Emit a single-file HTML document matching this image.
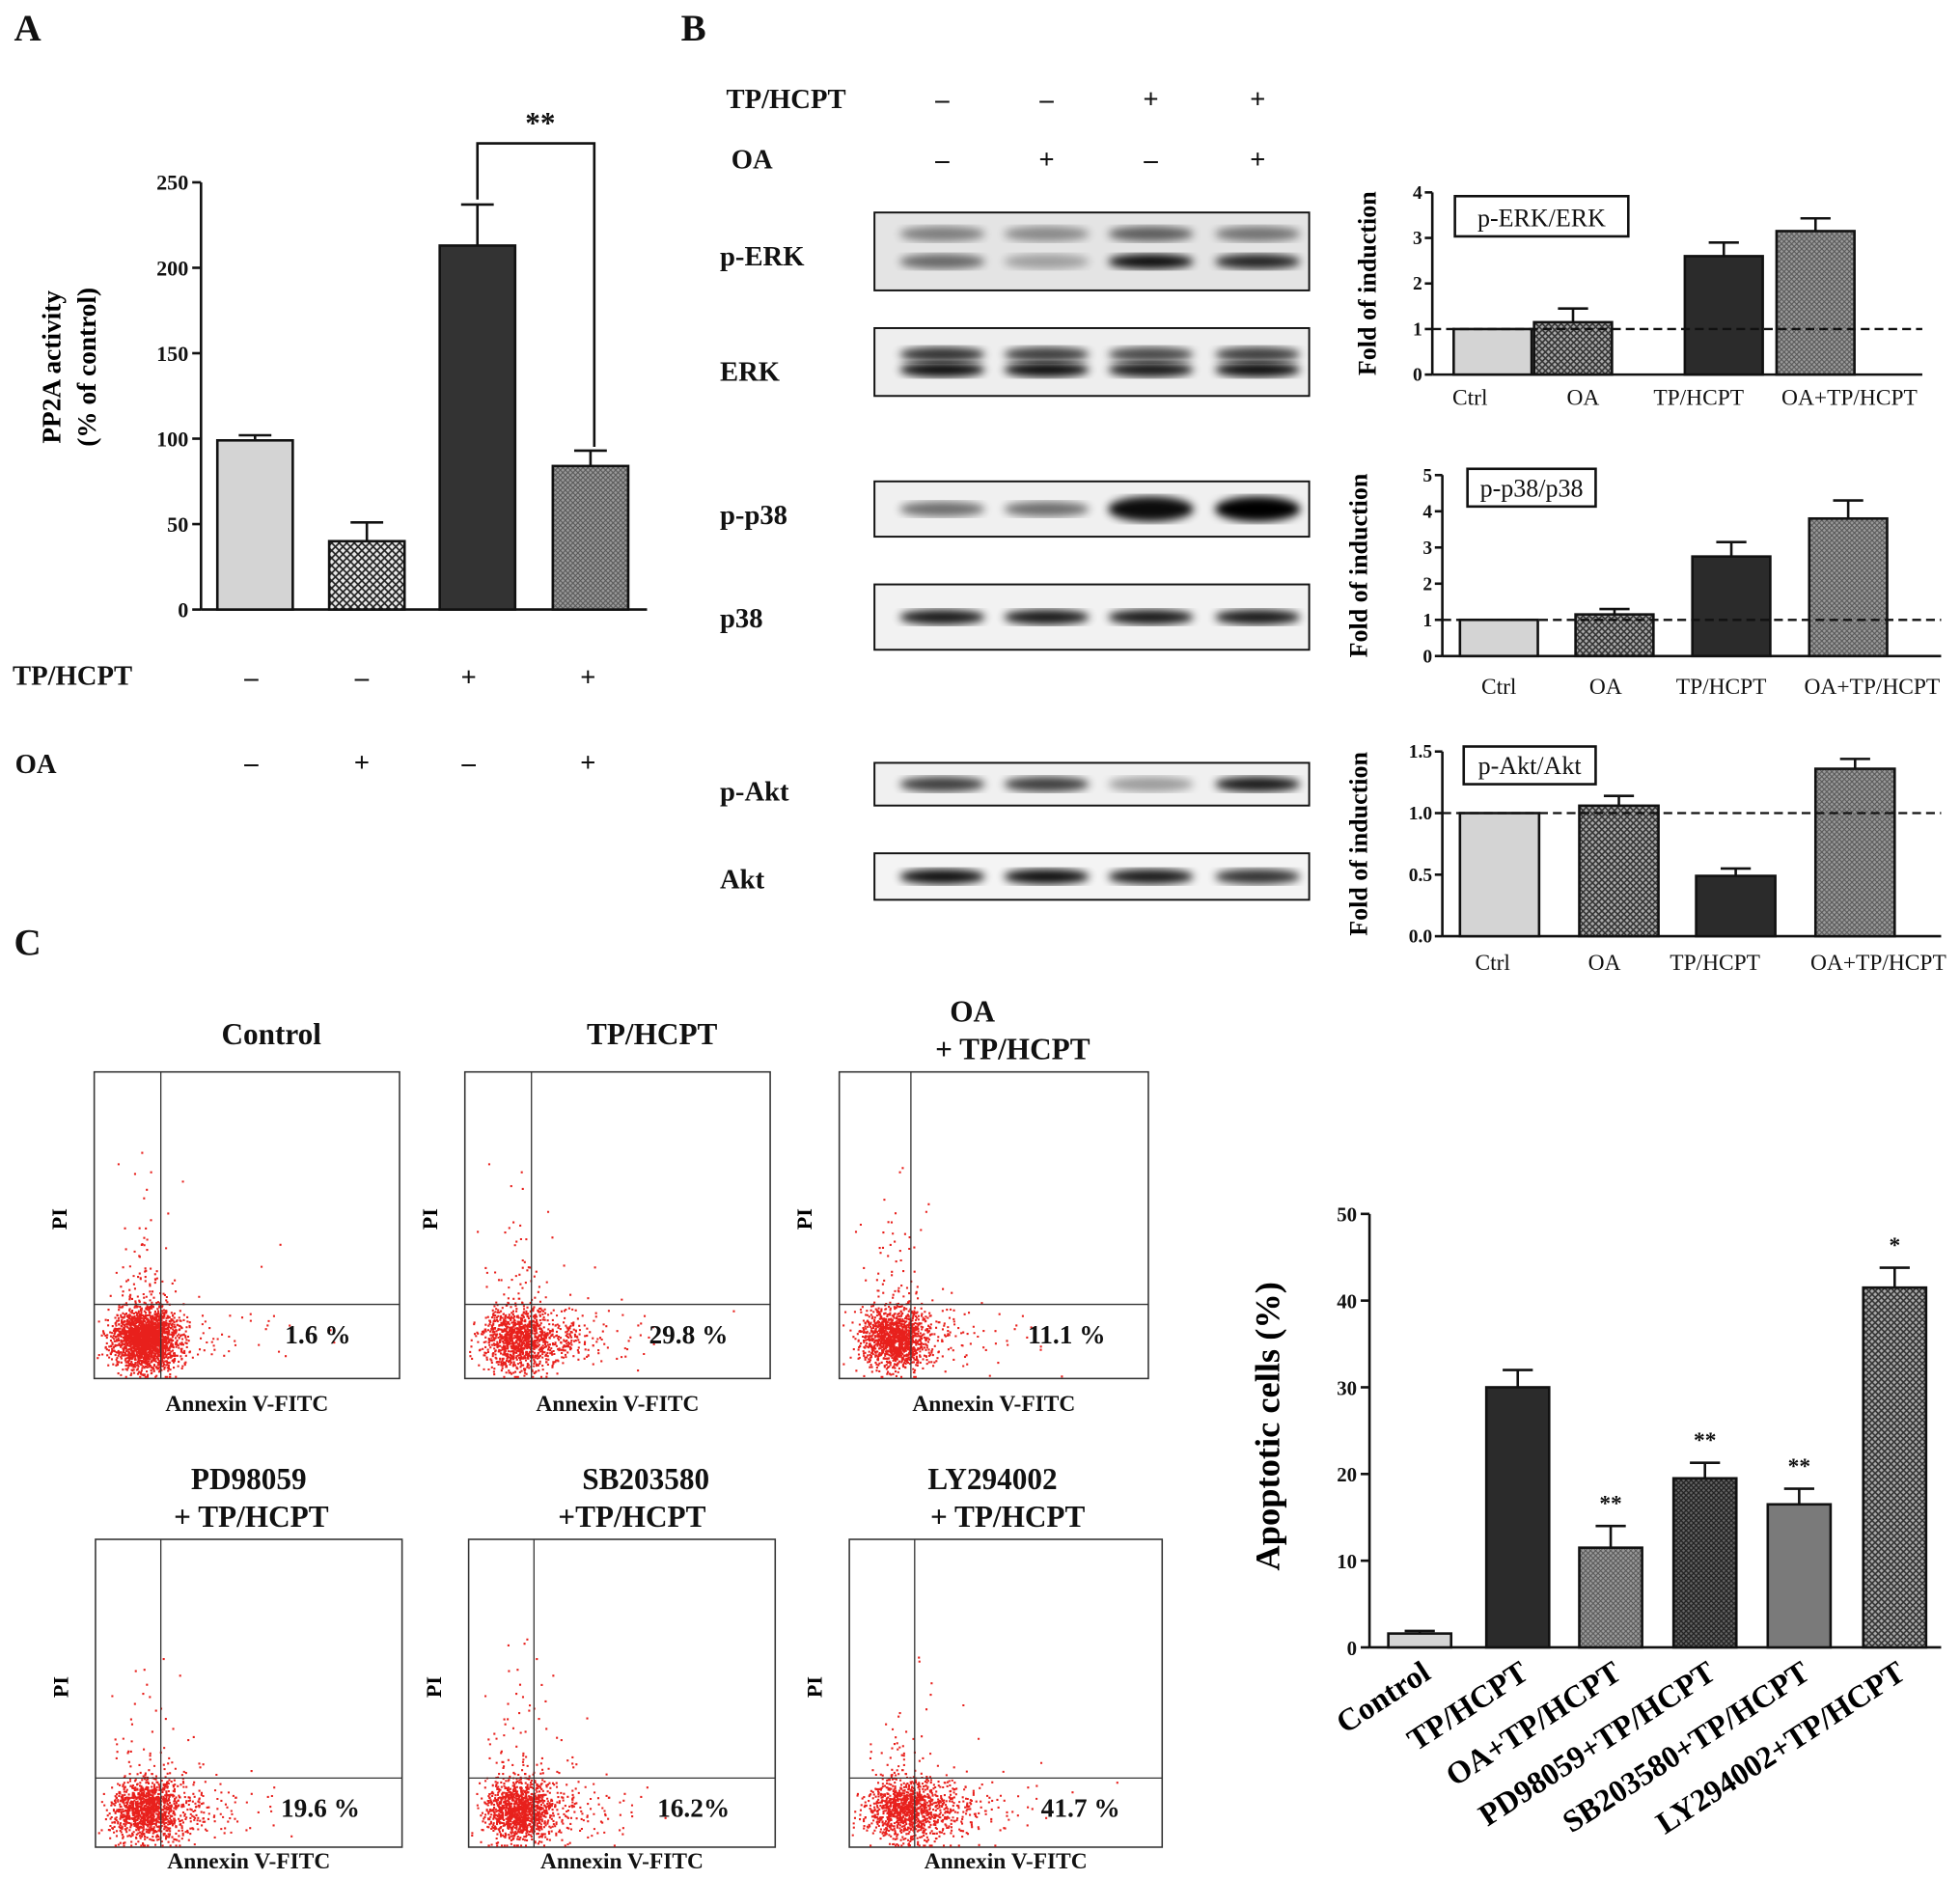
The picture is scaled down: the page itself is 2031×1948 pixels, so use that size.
<!DOCTYPE html>
<html><head><meta charset="utf-8">
<style>
html,body{margin:0;padding:0;background:#fff;}
svg{display:block;font-family:"Liberation Serif",serif;}
</style></head>
<body>
<svg id="fig" width="2031" height="1948" viewBox="0 0 1560 1496" xmlns="http://www.w3.org/2000/svg">
<defs>
<pattern id="hatchA" width="6" height="6" patternUnits="userSpaceOnUse">
<rect width="6" height="6" fill="#e8e8e8"/><path d="M0,0L6,6M6,0L0,6" stroke="#222" stroke-width="1.3"/></pattern>
<pattern id="hatchB" width="4" height="4" patternUnits="userSpaceOnUse">
<rect width="4" height="4" fill="#9a9a9a"/><path d="M0,0L4,4M4,0L0,4" stroke="#555" stroke-width="0.8"/></pattern>
<pattern id="hatchC" width="5" height="5" patternUnits="userSpaceOnUse">
<rect width="5" height="5" fill="#aaa"/><path d="M0,0L5,5M5,0L0,5" stroke="#333" stroke-width="1.2"/></pattern>
<pattern id="hatchD" width="4" height="4" patternUnits="userSpaceOnUse">
<rect width="4" height="4" fill="#666"/><path d="M0,0L4,4M4,0L0,4" stroke="#222" stroke-width="1"/></pattern>
<filter id="blur"><feGaussianBlur stdDeviation="3.5"/></filter>
</defs>
<g id="root"></g>
</svg>
<script>
// ---- data ----
const aCategories=["Ctrl","OA","TP/HCPT","OA+TP/HCPT"];
const aValues=[99,40,213,84];
const aErrors=[3,11,24,9];
const aTicks=[0,50,100,150,200,250];
const tpSigns=["–","–","+","+"];
const oaSigns=["–","+","–","+"];

const erkValues=[1,1.15,2.6,3.15];
const erkErrors=[0,0.3,0.3,0.28];
const erkTicks=[0,1,2,3,4];
const p38Values=[1,1.15,2.75,3.8];
const p38Errors=[0,0.15,0.4,0.5];
const p38Ticks=[0,1,2,3,4,5];
const aktValues=[1.0,1.06,0.49,1.36];
const aktErrors=[0,0.08,0.06,0.08];
const aktTicks=[0,0.5,1.0,1.5];
const aktTickLabels=["0.0","0.5","1.0","1.5"];

const cCategories=["Control","TP/HCPT","OA+TP/HCPT","PD98059+TP/HCPT","SB203580+TP/HCPT","LY294002+TP/HCPT"];
const cValues=[1.6,30,11.5,19.5,16.5,41.5];
const cErrors=[0.3,2,2.5,1.8,1.8,2.3];
const cStars=["","","**","**","**","*"];
const cTicks=[0,10,20,30,40,50];
const flowPercents=["1.6 %","29.8 %","11.1 %","19.6 %","16.2%","41.7 %"];

const NS="http://www.w3.org/2000/svg";
const root=document.getElementById('root');
function mk(tag,attrs,name,parent){
  const el=document.createElementNS(NS,tag);
  for(const k in attrs) el.setAttribute(k,attrs[k]);
  
  
  (parent||root).appendChild(el);return el;
}
function txt(x,y,s,size,name,extra){
  const a=Object.assign({x:x,y:y,'font-size':size,'font-weight':'bold','text-anchor':'middle',fill:'#111'},extra||{});
  const t=mk('text',a,name);t.textContent=s;return t;
}
function line(x1,y1,x2,y2,name,w,extra){
  return mk('line',Object.assign({x1,y1,x2,y2,stroke:'#111','stroke-width':w||2},extra||{}),name);
}

// ---- Panel A ----
txt(22,32,"A",30,"panel-a-label");
(function(){
  const x0=160,y0=485,y1=145,max=250;
  const ys=v=>y0-(v/max)*(y0-y1);
  const fills=["#d4d4d4","url(#hatchA)","#333","url(#hatchB)"];
  const lefts=[173,262,350,440],w=60;
  line(x0,y1,x0,y0,"a-y-axis");line(x0,y0,515,y0,"a-x-axis");
  aTicks.forEach(t=>{line(x0-7,ys(t),x0,ys(t),"a-y-tick");txt(x0-10,ys(t)+6,String(t),17,"a-y-tick-label",{'text-anchor':'end'});});
  aValues.forEach((v,i)=>{
    const cx=lefts[i]+w/2;
    line(cx,ys(v),cx,ys(v+aErrors[i]),"a-error-bar");
    line(cx-13,ys(v+aErrors[i]),cx+13,ys(v+aErrors[i]),"a-error-cap");
    mk('rect',{x:lefts[i],y:ys(v),width:w,height:y0-ys(v),fill:fills[i],stroke:'#111','stroke-width':2},"a-bar-"+i);
  });
  const c2=lefts[2]+w/2;
  mk('path',{d:`M${c2},${ys(aValues[2]+aErrors[2])-4}L${c2},114L473,114L473,${ys(aValues[3]+aErrors[3])-3}`,fill:'none',stroke:'#111','stroke-width':2},"a-significance-bracket");
  txt(430,106,"**",24,"a-significance-stars");
  const yl=mk('text',{x:0,y:0,'font-size':21,'font-weight':'bold','text-anchor':'middle',transform:'translate(48,292) rotate(-90)'},"a-y-axis-title");
  yl.textContent="PP2A activity";
  const yl2=mk('text',{x:0,y:0,'font-size':21,'font-weight':'bold','text-anchor':'middle',transform:'translate(76,292) rotate(-90)'},"a-y-axis-title-2");
  yl2.textContent="(% of control)";
  txt(10,545,"TP/HCPT",22,"a-tp-row-label",{'text-anchor':'start'});
  txt(12,615,"OA",22,"a-oa-row-label",{'text-anchor':'start'});
  const sx=[200,288,373,468];
  sx.forEach((x,i)=>{txt(x,546,tpSigns[i],22,"a-tp-sign");txt(x,614,oaSigns[i],22,"a-oa-sign");});
})();

// ---- Panel B blots ----
txt(552,32,"B",30,"panel-b-label");
txt(578,86,"TP/HCPT",22,"b-tp-row-label",{'text-anchor':'start'});
txt(582,134,"OA",22,"b-oa-row-label",{'text-anchor':'start'});
const laneX=[750,833,916,1001];
laneX.forEach((x,i)=>{txt(x,86,tpSigns[i],22,"b-tp-sign");txt(x,134,oaSigns[i],22,"b-oa-sign");});
const blots=[
 {n:"p-ERK",y:169,h:62,ly:211,bands:[[0.45,0.4,0.6,0.5],[0.55,0.3,0.95,0.85]],by:[-14,8],bg:'#e4e4e4'},
 {n:"ERK",y:261,h:54,ly:303,bands:[[0.8,0.75,0.7,0.75],[0.95,0.95,0.9,0.95]],by:[-6,6],bg:'#eeeeee'},
 {n:"p-p38",y:383,h:44,ly:417,bands:[[0.55,0.55,0.95,1]],by:[0],bg:'#f0f0f0'},
 {n:"p38",y:465,h:52,ly:499,bands:[[0.9,0.9,0.9,0.9]],by:[0],bg:'#f2f2f2'},
 {n:"p-Akt",y:607,h:34,ly:637,bands:[[0.75,0.75,0.35,0.9]],by:[0],bg:'#f0f0f0'},
 {n:"Akt",y:679,h:37,ly:707,bands:[[0.95,0.95,0.9,0.8]],by:[0],bg:'#f4f4f4'}
];
blots.forEach(b=>{
  txt(573,b.ly,b.n,22,"blot-label-"+b.n,{'text-anchor':'start'});
  mk('rect',{x:696,y:b.y,width:346,height:b.h,fill:b.bg,stroke:'#111','stroke-width':1.5},"blot-box-"+b.n);
  const cy=b.y+b.h/2;
  b.bands.forEach((row,r)=>{
    row.forEach((a,i)=>{
      mk('ellipse',{cx:laneX[i],cy:cy+b.by[r],rx:34,ry:b.n==="p-p38"&&a>0.8?10:6,fill:'#000',opacity:a,filter:'url(#blur)'},"blot-band");
    });
  });
});

// ---- Panel B small charts ----
function smallChart(cfg){
  const {x0,yTop,yBot,max,vals,errs,ticks,tickLabels,lefts,w,labX,labY,title,box,xEnd,key,ylx}=cfg;
  const ys=v=>yBot-(v/max)*(yBot-yTop);
  const fills=["#d4d4d4","url(#hatchC)","#2b2b2b","url(#hatchB)"];
  line(x0,yTop,x0,yBot,key+"-y-axis");line(x0,yBot,xEnd,yBot,key+"-x-axis");
  ticks.forEach((t,i)=>{line(x0-6,ys(t),x0,ys(t),key+"-y-tick");txt(x0-8,ys(t)+5,tickLabels?tickLabels[i]:String(t),15,key+"-y-tick-label",{'text-anchor':'end'});});
  vals.forEach((v,i)=>{
    const cx=lefts[i]+w/2;
    if(errs[i]>0){line(cx,ys(v),cx,ys(v+errs[i]),key+"-error-bar");line(cx-12,ys(v+errs[i]),cx+12,ys(v+errs[i]),key+"-error-cap");}
    mk('rect',{x:lefts[i],y:ys(v),width:w,height:yBot-ys(v),fill:fills[i],stroke:'#111','stroke-width':2},key+"-bar-"+i);
  });
  line(x0,ys(1),xEnd,ys(1),key+"-reference-line",1.8,{'stroke-dasharray':'7,4'});
  aCategories.forEach((c,i)=>txt(labX[i],labY,c,18,key+"-x-label",{'font-weight':'normal'}));
  mk('rect',{x:box[0],y:box[1],width:box[2],height:box[3],fill:'#fff',stroke:'#111','stroke-width':2},key+"-legend-box");
  txt(box[0]+box[2]/2,box[1]+box[3]-8,title,20,key+"-legend-text",{'font-weight':'normal'});
  const yl=mk('text',{x:0,y:0,'font-size':20,'font-weight':'bold','text-anchor':'middle',transform:`translate(${ylx},${(yTop+yBot)/2}) rotate(-90)`},key+"-y-axis-title");
  yl.textContent="Fold of induction";
}
smallChart({key:"erk",ylx:1095,x0:1140,yTop:153,yBot:298,max:4,vals:erkValues,errs:erkErrors,ticks:erkTicks,lefts:[1157,1221,1341,1414],w:62,labX:[1170,1260,1352,1472],labY:322,title:"p-ERK/ERK",box:[1158,156,138,32],xEnd:1530});
smallChart({key:"p38",ylx:1088,x0:1148,yTop:378,yBot:522,max:5,vals:p38Values,errs:p38Errors,ticks:p38Ticks,lefts:[1162,1254,1347,1440],w:62,labX:[1193,1278,1370,1490],labY:552,title:"p-p38/p38",box:[1168,373,102,30],xEnd:1545});
smallChart({key:"akt",ylx:1088,x0:1148,yTop:598,yBot:745,max:1.5,vals:aktValues,errs:aktErrors,ticks:aktTicks,tickLabels:aktTickLabels,lefts:[1162,1257,1350,1445],w:63,labX:[1188,1277,1365,1495],labY:772,title:"p-Akt/Akt",box:[1165,594,105,30],xEnd:1545});

// ---- Panel C flow plots ----
txt(22,760,"C",30,"panel-c-label");
let seed=12345;
function rnd(){seed=(seed*1103515245+12345)&0x7fffffff;return seed/0x7fffffff;}
function gauss(){return Math.sqrt(-2*Math.log(rnd()+1e-9))*Math.cos(2*Math.PI*rnd());}
const flows=[
 {t:["Control"],tx:[216],bx:75,by:853,bw:243,bh:244,gx:128,gy:1038,ly:1123},
 {t:["TP/HCPT"],tx:[519],bx:370,by:853,bw:243,bh:244,gx:423,gy:1038,ly:1123},
 {t:["OA","+ TP/HCPT"],tx:[774,806],bx:668,by:853,bw:246,bh:244,gx:725,gy:1038,ly:1123},
 {t:["PD98059","+ TP/HCPT"],tx:[198,200],bx:76,by:1225,bw:244,bh:245,gx:128,gy:1415,ly:1487},
 {t:["SB203580","+TP/HCPT"],tx:[514,503],bx:373,by:1225,bw:244,bh:245,gx:425,gy:1415,ly:1487},
 {t:["LY294002","+ TP/HCPT"],tx:[790,802],bx:676,by:1225,bw:249,bh:245,gx:728,gy:1415,ly:1487}
];
flows.forEach((f,k)=>{
  const g=mk('g',{},"flow-plot-"+k);
  if(f.t.length===1) txt(f.tx[0],f.by-22,f.t[0],24,"flow-title");
  else {txt(f.tx[0],f.by-40,f.t[0],24,"flow-title");txt(f.tx[1],f.by-10,f.t[1],24,"flow-title");}
  mk('rect',{x:f.bx,y:f.by,width:f.bw,height:f.bh,fill:'#fff',stroke:'#333','stroke-width':1.2},"flow-frame",g);
  let d="";
  const pct=parseFloat(flowPercents[k])/100;
  const n=2600;
  const cx=f.bx+(f.gx-f.bx)*0.75,cy=f.gy+(f.by+f.bh-f.gy)*0.45;
  for(let i=0;i<n;i++){
    let x=cx+gauss()*13+(rnd()<pct?Math.abs(gauss())*30:0);
    let y=cy+gauss()*12-(rnd()<0.06?Math.abs(gauss())*45:0);
    if(rnd()<0.02){x+=Math.abs(gauss())*60;}
    x=Math.max(f.bx+2,Math.min(f.bx+f.bw-2,x));y=Math.max(f.by+2,Math.min(f.by+f.bh-2,y));
    d+=`M${x.toFixed(1)},${y.toFixed(1)}h1.6v1.6h-1.6z`;
  }
  mk('path',{d:d,fill:'#e8201c'},"flow-dots",g);
  line(f.gx,f.by,f.gx,f.by+f.bh,"flow-gate-vertical",1,{stroke:'#333'});
  line(f.bx,f.gy,f.bx+f.bw,f.gy,"flow-gate-horizontal",1,{stroke:'#333'});
  txt(f.bx+f.bw-65,f.gy+31,flowPercents[k],21,"flow-percent");
  const pl=mk('text',{x:0,y:0,'font-size':17,'font-weight':'bold','text-anchor':'middle',transform:`translate(${f.bx-22},${f.by+f.bh*0.48}) rotate(-90)`},"flow-y-label");
  pl.textContent="PI";
  txt(f.bx+f.bw*0.5,f.ly,"Annexin V-FITC",18,"flow-x-label");
});

// ---- Panel C bar chart ----
(function(){
  const x0=1090,y0=1311,y1=966,max=50;
  const ys=v=>y0-(v/max)*(y0-y1);
  const fills=["#d4d4d4","#2b2b2b","url(#hatchB)","url(#hatchD)","#7a7a7a","url(#hatchC)"];
  const lefts=[1105,1183,1257,1332,1407,1483],w=50;
  line(x0,y1,x0,y0,"c-y-axis");line(x0,y0,1545,y0,"c-x-axis");
  cTicks.forEach(t=>{line(x0-7,ys(t),x0,ys(t),"c-y-tick");txt(x0-10,ys(t)+6,String(t),16,"c-y-tick-label",{'text-anchor':'end'});});
  cValues.forEach((v,i)=>{
    const cx=lefts[i]+w/2;
    line(cx,ys(v),cx,ys(v+cErrors[i]),"c-error-bar");
    line(cx-12,ys(v+cErrors[i]),cx+12,ys(v+cErrors[i]),"c-error-cap");
    mk('rect',{x:lefts[i],y:ys(v),width:w,height:y0-ys(v),fill:fills[i],stroke:'#111','stroke-width':2},"c-bar-"+i);
    if(cStars[i]) txt(cx,ys(v+cErrors[i])-12,cStars[i],18,"c-significance");
    const t=mk('text',{x:0,y:0,'font-size':25,'font-weight':'bold','text-anchor':'end',transform:`translate(${cx+10},${y0+24}) rotate(-33)`},"c-x-label");
    t.textContent=cCategories[i];
  });
  const yl=mk('text',{x:0,y:0,'font-size':28,'font-weight':'bold','text-anchor':'middle',transform:`translate(1018,1135) rotate(-90)`},"c-y-axis-title");
  yl.textContent="Apoptotic cells (%)";
})();
</script>
</body></html>
